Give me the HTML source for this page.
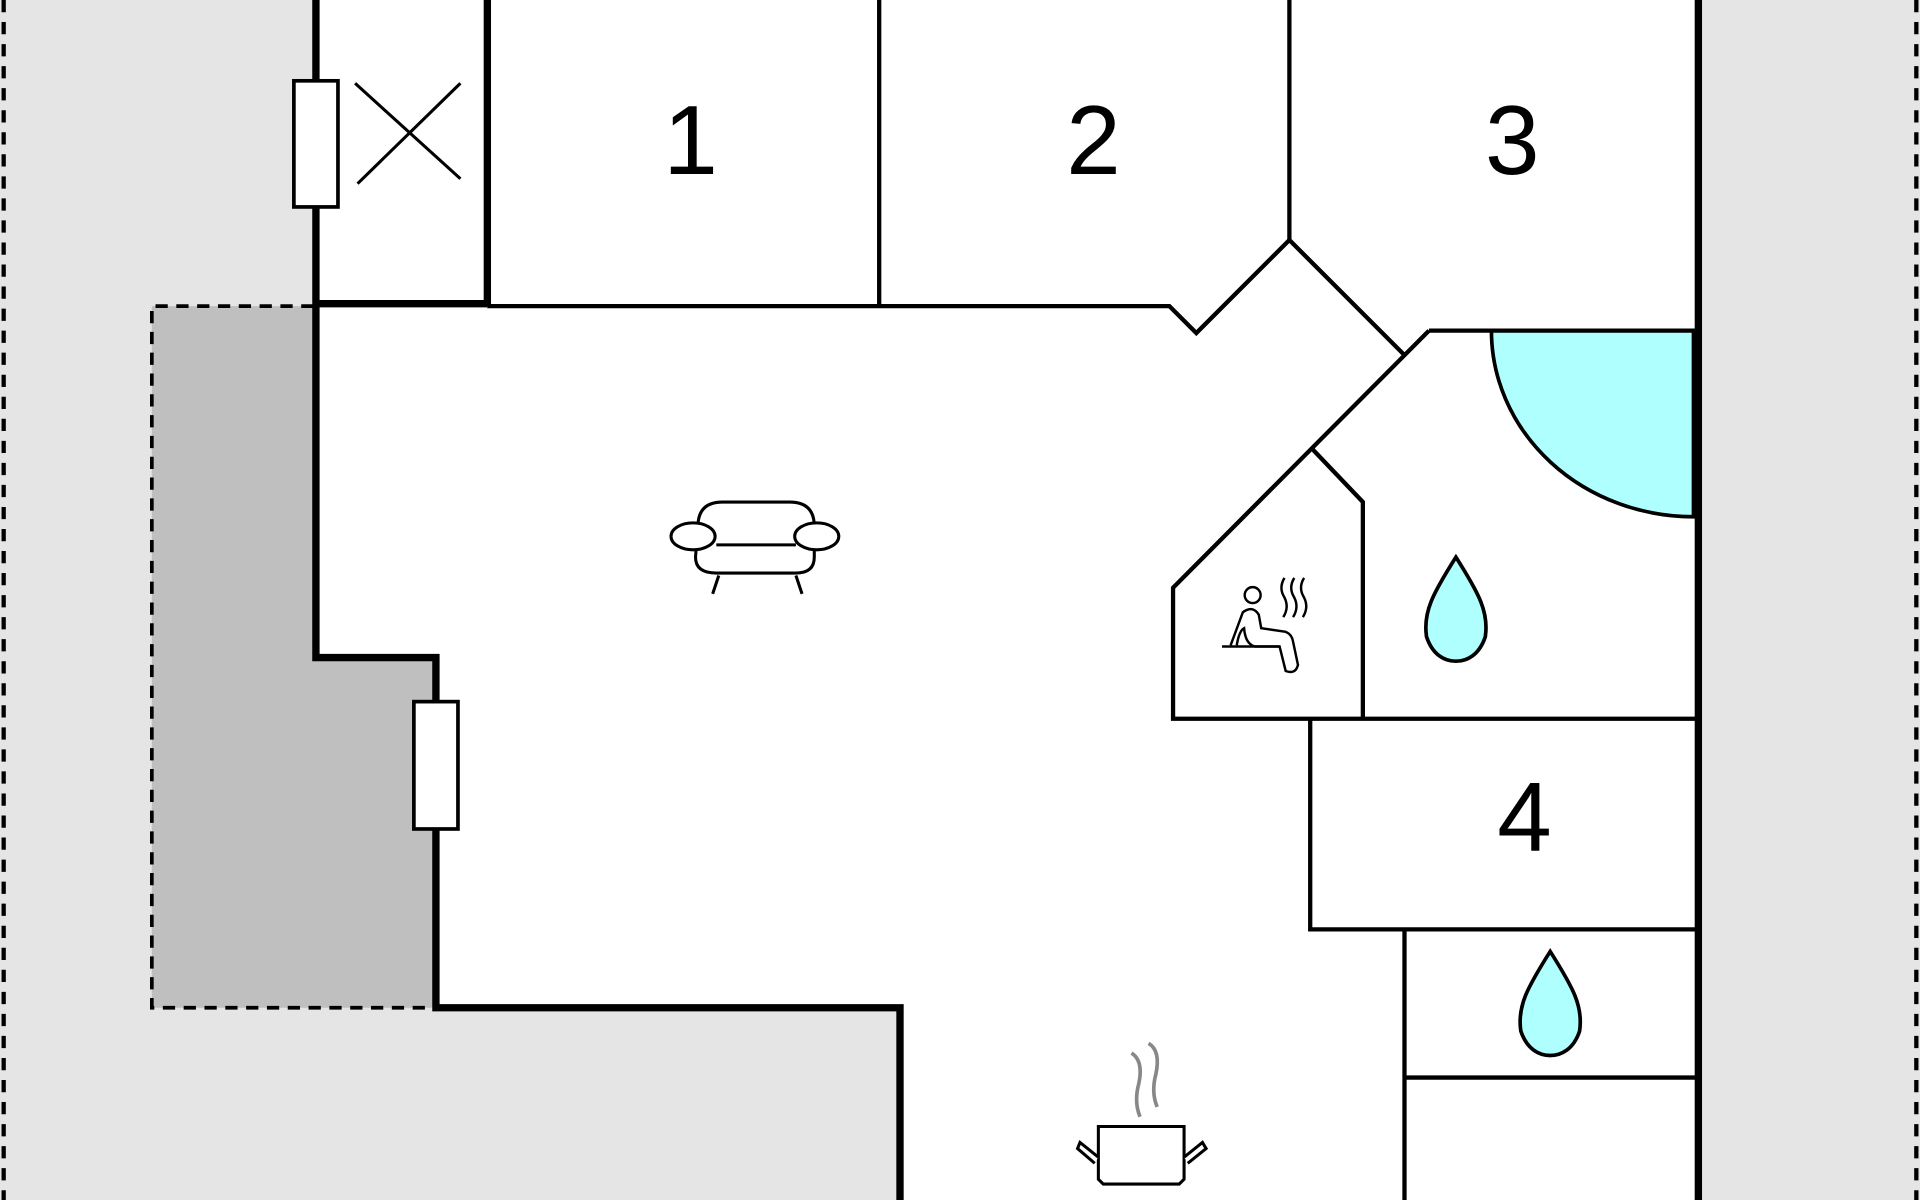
<!DOCTYPE html>
<html><head><meta charset="utf-8"><style>html,body{margin:0;padding:0;background:#e5e5e5}svg{display:block}</style></head>
<body>
<svg width="1920" height="1200" viewBox="0 0 1568 980" xmlns="http://www.w3.org/2000/svg">
<rect width="1568" height="980" fill="#e5e5e5"/>
<line x1="3" y1="0" x2="3" y2="980" stroke="#000" stroke-width="3.5" stroke-dasharray="10,8"/>
<line x1="1565" y1="0" x2="1565" y2="980" stroke="#000" stroke-width="3.5" stroke-dasharray="10,8"/>
<rect x="124" y="250" width="232" height="573" fill="#bfbfbf"/>
<path d="M256,250 L124,250 L124,823 L356,823" fill="none" stroke="#000" stroke-width="3" stroke-dasharray="10,7"/>
<polygon points="258,0 1387,0 1387,980 735,980 735,823 356,823 356,537 258,537" fill="#fff"/>
<path d="M1383,270 L1218,270 A165,152 0 0 0 1383,422 Z" fill="#b0ffff" stroke="#000" stroke-width="3"/>
<g stroke="#000" stroke-width="3.5" fill="none">
<line x1="718" y1="0" x2="718" y2="250"/>
<line x1="1053" y1="0" x2="1053" y2="196"/>
<polyline points="398,250 955,250 977,272 1053,196 1147,290"/>
<line x1="1167" y1="270" x2="1385" y2="270"/>
<polyline points="1167,270 958,480 958,587 1385,587"/>
<polyline points="1072,367 1113,410 1113,587"/>
<polyline points="1070,587 1070,759 1385,759"/>
<line x1="1147" y1="759" x2="1147" y2="980"/>
<line x1="1147" y1="880" x2="1385" y2="880"/>
<line x1="290" y1="68" x2="376" y2="146" stroke-width="2.5"/>
<line x1="376" y1="68" x2="292" y2="150" stroke-width="2.5"/>
</g>
<g stroke="#000" stroke-width="6" fill="none">
<polyline points="258,0 258,537 356,537 356,823 735,823 735,980"/>
<line x1="398" y1="0" x2="398" y2="250"/>
<line x1="258" y1="248" x2="398" y2="248"/>
<line x1="1387" y1="0" x2="1387" y2="980"/>
</g>
<rect x="240" y="66" width="36" height="103" fill="#fff" stroke="#000" stroke-width="3"/>
<rect x="338" y="573" width="36" height="104" fill="#fff" stroke="#000" stroke-width="3"/>
<g font-family="Liberation Sans, sans-serif" font-size="80" text-anchor="middle" fill="#000">
<text x="564" y="142">1</text><text x="893" y="142">2</text><text x="1235" y="142">3</text><text x="1245" y="695">4</text>
</g>
<g fill="#b0ffff" stroke="#000" stroke-width="3">
<path d="M1189,455 C1170,485 1162,500 1165,520 C1170,535 1180,540 1189,540 C1198,540 1208,535 1213,520 C1216,500 1208,485 1189,455 Z"/>
<path d="M1266,777 C1247,807 1239,822 1242,842 C1247,857 1257,862 1266,862 C1275,862 1285,857 1290,842 C1293,822 1285,807 1266,777 Z"/>
</g>
<g stroke="#000" stroke-width="2.5" fill="#fff">
<path d="M570,430 Q570,410 590,410 L645,410 Q665,410 665,430 L665,455 Q665,468 650,468 L585,468 Q568,468 568,455 Z"/>
<line x1="585" y1="445" x2="650" y2="445"/>
<ellipse cx="566" cy="438" rx="18" ry="11"/>
<ellipse cx="667" cy="438" rx="18" ry="11"/>
<line x1="587" y1="470" x2="582" y2="485"/>
<line x1="650" y1="470" x2="655" y2="485"/>
</g>
<g stroke="#000" stroke-width="2" fill="none">
<circle cx="1023" cy="486" r="6.5"/>
<path d="M1005,527 L1015,500 Q1023,494 1028,502 L1030,513 L1050,516 Q1055,518 1056,524 L1060,543 Q1058,551 1050,548 L1045,528 L1025,528 Q1017,526 1016,513 Q1012,515 1010,527"/>
<line x1="998" y1="528" x2="1045" y2="528"/>
<path d="M1049,472 Q1044,480 1049,488 Q1053,496 1048,504"/>
<path d="M1057,472 Q1052,480 1057,488 Q1061,496 1056,504"/>
<path d="M1065,472 Q1060,480 1065,488 Q1069,496 1064,504"/>
</g>
<g stroke="#888" stroke-width="3" fill="none">
<path d="M924,860 Q934,866 930,885 Q926,900 931,912"/>
<path d="M938,852 Q948,858 944,877 Q940,892 945,904"/>
</g>
<g stroke="#000" stroke-width="2.5" fill="#fff">
<path d="M897,920 L967,920 L967,963 L963,967 L901,967 L897,963 Z"/>
<path d="M897,945 L882,933 L880,938 L894,950" />
<path d="M967,945 L982,933 L985,938 L970,950" />
</g>
</svg>
</body></html>
